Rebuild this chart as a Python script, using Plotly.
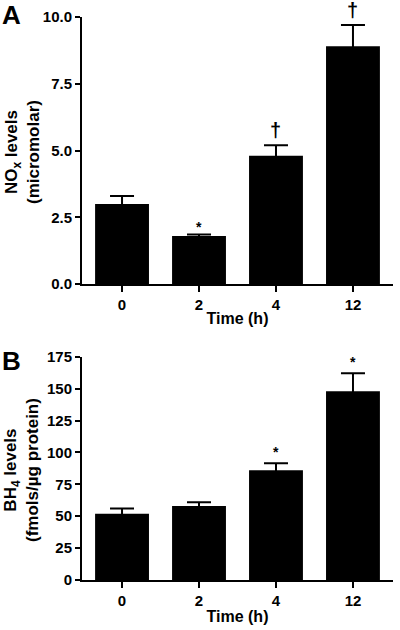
import plotly.graph_objects as go

# ---- data ----
times = ["0", "2", "4", "12"]
nox_mean = [3.0, 1.8, 4.8, 8.9]
nox_err = [0.3, 0.05, 0.4, 0.8]
nox_sig = ["", "*", "†", "†"]

bh4_mean = [52, 58, 86, 148]
bh4_err = [4, 3, 5.5, 14]
bh4_sig = ["", "", "*", "*"]

FONT = "Arial, Liberation Sans, sans-serif"
W, H = 400, 630
pos = list(range(len(times)))

def py(pix):
    return 1 - pix / H

fig = go.Figure()
fig.add_trace(go.Bar(x=pos, y=nox_mean, marker=dict(color="black", line=dict(width=0)),
                     width=0.7,
                     error_y=dict(type="data", array=nox_err, visible=True, color="black",
                                  thickness=2, width=12),
                     xaxis="x", yaxis="y", showlegend=False))
fig.add_trace(go.Bar(x=pos, y=bh4_mean, marker=dict(color="black", line=dict(width=0)),
                     width=0.7,
                     error_y=dict(type="data", array=bh4_err, visible=True, color="black",
                                  thickness=2, width=12),
                     xaxis="x2", yaxis="y2", showlegend=False))

tickfont = dict(family=FONT, size=15, color="black", weight="bold")
xtitlefont = dict(family=FONT, size=16, color="black", weight="bold")
common_x = dict(range=[-0.52, 3.52], tickvals=pos, ticktext=times, showline=True,
                linecolor="black", linewidth=2, ticks="outside", ticklen=6, tickwidth=2,
                tickcolor="black", tickfont=tickfont, showgrid=False, zeroline=False,
                automargin=False)
common_y = dict(showline=True, linecolor="black", linewidth=2, ticks="outside", ticklen=5,
                tickwidth=2, tickcolor="black", tickfont=tickfont, showgrid=False,
                zeroline=False, automargin=False)

xa = [82 / W, 393 / W]
fig.update_layout(
    width=W, height=H, margin=dict(l=0, r=0, t=0, b=0, pad=0, autoexpand=False),
    plot_bgcolor="white", paper_bgcolor="white", bargap=0.3,
    xaxis=dict(domain=xa, anchor="y",
               title=dict(text="Time (h)", font=xtitlefont, standoff=1),
               **common_x),
    yaxis=dict(domain=[py(284), py(17)], anchor="x", range=[0, 10], tickvals=[0, 2.5, 5, 7.5, 10],
               ticktext=["0.0", "2.5", "5.0", "7.5", "10.0"], **common_y),
    xaxis2=dict(domain=xa, anchor="y2",
                title=dict(text="Time (h)", font=xtitlefont, standoff=3),
                **common_x),
    yaxis2=dict(domain=[py(580), py(356.7)], anchor="x2", range=[0, 175],
                tickvals=[0, 25, 50, 75, 100, 125, 150, 175], **common_y),
)

ann = []
for i, m, e, s in zip(pos, nox_mean, nox_err, nox_sig):
    if s:
        ann.append(dict(x=i, y=m + e, xref="x", yref="y", text=s, showarrow=False,
                        yanchor="bottom", yshift=2 if s == "†" else -2,
                        font=dict(family=FONT, size=20 if s == "†" else 14, color="black", weight="bold")))
for i, m, e, s in zip(pos, bh4_mean, bh4_err, bh4_sig):
    if s:
        ann.append(dict(x=i, y=m + e, xref="x2", yref="y2", text=s, showarrow=False,
                        yanchor="bottom", yshift=1,
                        font=dict(family=FONT, size=14, color="black", weight="bold")))

titlefont = dict(family=FONT, size=17, color="black", weight="bold")
ann.append(dict(x=22 / W, y=py(152), xref="paper", yref="paper", xanchor="center", yanchor="middle",
                text="NO<sub>x</sub> levels<br>(micromolar)", textangle=-90, showarrow=False,
                font=titlefont))
ann.append(dict(x=21 / W, y=py(470), xref="paper", yref="paper", xanchor="center", yanchor="middle",
                text="BH<sub>4</sub> levels<br>(fmols/µg protein)", textangle=-90, showarrow=False,
                font=titlefont))
panelfont = dict(family=FONT, size=26, color="black", weight="bold")
ann.append(dict(x=0 / W, y=py(-2), xref="paper", yref="paper", xanchor="left", yanchor="top",
                text="A", showarrow=False, font=panelfont))
ann.append(dict(x=0 / W, y=py(344), xref="paper", yref="paper", xanchor="left", yanchor="top",
                text="B", showarrow=False, font=panelfont))
fig.update_layout(annotations=ann)

fig.write_html("out.html", config={"displayModeBar": False},
               post_script="document.body.style.margin='0';document.body.style.overflow='hidden';")
